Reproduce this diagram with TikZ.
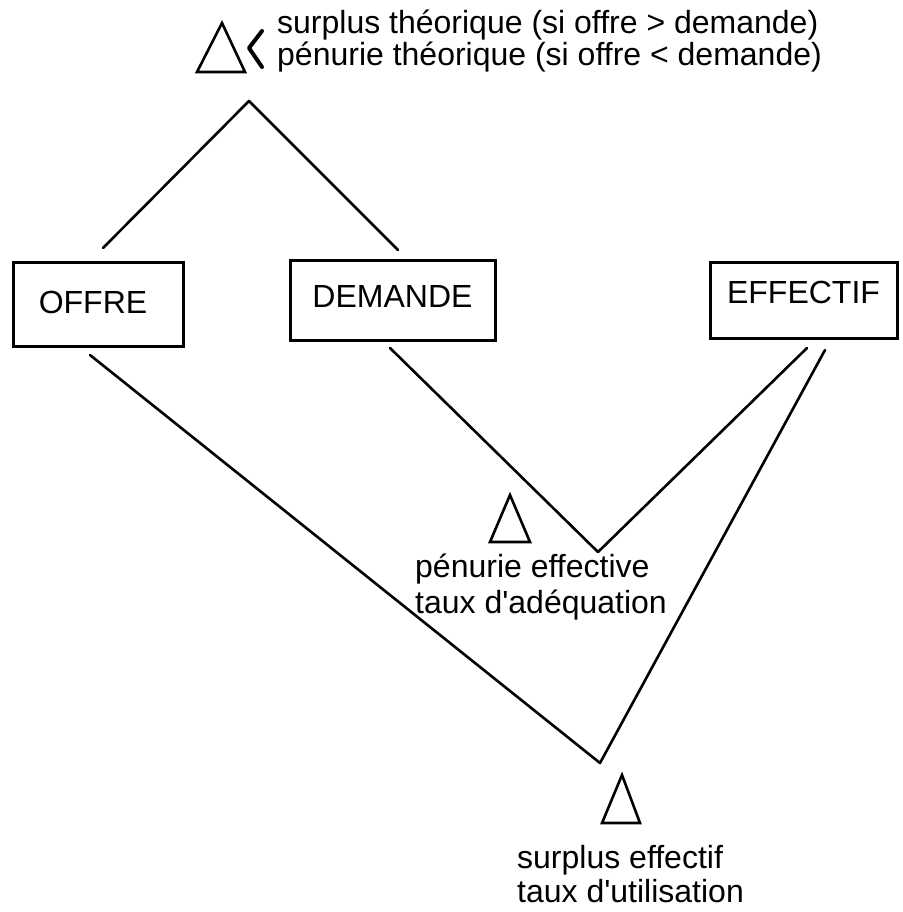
\documentclass[tikz,border=0pt]{standalone}
\usepackage{fontspec}
\setmainfont{Liberation Sans}
\begin{document}
\begin{tikzpicture}[x=1pt,y=-1pt,line cap=round,line join=round,
  big/.style={font=\fontsize{32}{36}\selectfont},
  box/.style={draw,line width=3pt,inner sep=0pt,text height=23pt,big,line join=miter},
  txt/.style={anchor=base west,inner sep=0pt,big},
  link/.style={line width=2.6pt},
  delta/.style={line width=2.6pt,line join=miter}]
\useasboundingbox (0,0) rectangle (902,912);
% boxes
\node[box,minimum width=170pt,minimum height=84pt,text depth=5pt] (offre) at (98,304) {OFFRE\hspace*{10pt}};
\node[box,minimum width=205pt,minimum height=80pt,text depth=9pt] (demande) at (392.5,300) {DEMANDE};
\node[box,minimum width=187pt,minimum height=76pt,text depth=17pt] (effectif) at (803.5,300) {EFFECTIF};
% connector ends
\coordinate (tl) at (103,248);
\coordinate (topapex) at (249,101);
\coordinate (tr) at (398,250);
\coordinate (dl) at (390,348);
\coordinate (midapex) at (598,552);
\coordinate (er1) at (807,348);
\coordinate (ol) at (90,355);
\coordinate (botapex) at (600,763);
\coordinate (er2) at (825,350);
\draw[link] (tl) -- (topapex) -- (tr);
\draw[link] (dl) -- (midapex) -- (er1);
\draw[link] (ol) -- (botapex) -- (er2);
% deltas
\draw[delta] (197,72) -- (245,72) -- (222,23) -- cycle;
\draw[line width=4pt] (262,31) -- (249,48) -- (262,67);
\draw[delta] (490,542) -- (530,542) -- (510,495) -- cycle;
\draw[delta] (602,823) -- (640,823) -- (622,775) -- cycle;
% texts
\node[txt] (t1) at (277,34) {surplus théorique (si offre > demande)};
\node[txt] (t2) at (277,66) {pénurie théorique (si offre < demande)};
\node[txt] (m1) at (415,577) {pénurie effective};
\node[txt] (m2) at (415,613) {taux d\textquotesingle adéquation};
\node[txt] (b1) at (517,868) {surplus effectif};
\node[txt] (b2) at (517,902) {taux d\textquotesingle utilisation};
\end{tikzpicture}
\end{document}
